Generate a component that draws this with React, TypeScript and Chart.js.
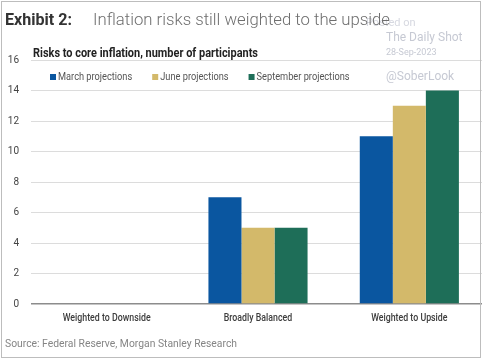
import React, { useEffect, useRef } from "react";
import { Chart, registerables } from "chart.js";

Chart.register(...registerables);

const categories = ["Weighted to Downside", "Broadly Balanced", "Weighted to Upside"];
const seriesNames = ["March projections", "June projections", "September projections"];
const marchValues = [0, 7, 11];
const juneValues = [0, 5, 13];
const septemberValues = [0, 5, 14];
const seriesColors = ["#0a56a0", "#d3b96a", "#1e6e58"];
const yMin = 0;
const yMax = 16;
const yStep = 2;

const FONT = "Roboto, 'Noto Sans', sans-serif";
const CONDENSE = 0.84;

function drawScaled(ctx: any, text: string, x: number, y: number, sx: number, align: string = "left") {
  ctx.save();
  ctx.translate(x, y);
  ctx.scale(sx, 1);
  ctx.textAlign = align;
  ctx.fillText(text, 0, 0);
  ctx.restore();
}

function drawFitted(ctx: any, text: string, x: number, y: number, width: number) {
  const w = ctx.measureText(text).width;
  drawScaled(ctx, text, x, y, width / w);
}

const decorPlugin = {
  id: "decor",
  beforeDraw(chart: any) {
    const ctx = chart.ctx;
    ctx.save();
    ctx.fillStyle = "#ffffff";
    ctx.fillRect(0, 0, chart.width, chart.height);
    ctx.restore();
  },
  afterDraw(chart: any) {
    const ctx = chart.ctx;
    ctx.save();
    ctx.textBaseline = "alphabetic";
    // watermark
    ctx.fillStyle = "#d6d8e0";
    ctx.font = "11px " + FONT;
    ctx.fillText("Posted on", 366, 26);
    ctx.fillStyle = "#c6c9d3";
    ctx.font = "12px " + FONT;
    ctx.fillText("The Daily Shot", 386, 41);
    ctx.font = "9px " + FONT;
    ctx.fillText("28-Sep-2023", 386, 55);
    ctx.font = "12px " + FONT;
    ctx.fillText("@SoberLook", 386, 80);

    // title
    ctx.fillStyle = "#333333";
    ctx.font = "bold 17px " + FONT;
    drawFitted(ctx, "Exhibit 2:", 5, 25, 67);
    ctx.fillStyle = "#6e6e6e";
    ctx.font = "300 17px " + FONT;
    drawFitted(ctx, "Inflation risks still weighted to the upside", 93, 25, 297);

    // subtitle
    ctx.fillStyle = "#222222";
    ctx.font = "bold 12px " + FONT;
    drawFitted(ctx, "Risks to core inflation, number of participants", 33, 57, 225);

    // legend
    const legendY = 77;
    let x = 50;
    ctx.font = "11px " + FONT;
    ctx.textBaseline = "middle";
    chart.data.datasets.forEach((ds: any) => {
      ctx.fillStyle = ds.backgroundColor;
      ctx.fillRect(x, legendY - 3, 6, 6);
      ctx.fillStyle = "#555555";
      drawScaled(ctx, ds.label, x + 8, legendY, CONDENSE);
      x += 8 + ctx.measureText(ds.label).width * CONDENSE + 20;
    });

    // x category labels
    const xs = chart.scales.x;
    ctx.fillStyle = "#3c3c3c";
    ctx.font = "500 11px " + FONT;
    (chart.data.labels as string[]).forEach((lab, i) => {
      drawScaled(ctx, lab, xs.getPixelForValue(i), 318, 0.8, "center");
    });

    // source
    ctx.fillStyle = "#858585";
    ctx.font = "11px " + FONT;
    drawFitted(ctx, "Source: Federal Reserve, Morgan Stanley Research", 5, 344, 232);

    // frame
    ctx.strokeStyle = "#bdbdbd";
    ctx.lineWidth = 1;
    ctx.strokeRect(1.5, 1.5, 479, 356);
    ctx.restore();
  },
};

export default function App() {
  const ref = useRef<HTMLCanvasElement>(null);
  useEffect(() => {
    document.body.style.margin = "0";
    const canvas = ref.current!;
    const chart = new Chart(canvas, {
      type: "bar",
      data: {
        labels: categories,
        datasets: [
          { label: seriesNames[0], data: marchValues, backgroundColor: seriesColors[0] },
          { label: seriesNames[1], data: juneValues, backgroundColor: seriesColors[1] },
          { label: seriesNames[2], data: septemberValues, backgroundColor: seriesColors[2] },
        ],
      },
      options: {
        responsive: false,
        animation: false,
        devicePixelRatio: 1,
        layout: { padding: { top: 60, right: 1, left: 0, bottom: 0 } },
        datasets: { bar: { categoryPercentage: 0.655, barPercentage: 1 } },
        plugins: { legend: { display: false }, title: { display: false }, tooltip: { enabled: false } },
        scales: {
          x: {
            grid: { display: false, drawTicks: false },
            border: { display: false },
            ticks: { display: false },
            afterFit: (s: any) => { s.height = 56; },
          },
          y: {
            min: yMin,
            max: yMax,
            grid: {
              drawTicks: false,
              color: (c: any) => (c.tick && c.tick.value === 0 ? "#8c8c8c" : "#dcdcdc"),
              lineWidth: (c: any) => (c.tick && c.tick.value === 0 ? 1.5 : 1),
            },
            border: { display: false },
            ticks: { stepSize: yStep, color: "#444444", font: { family: FONT, size: 10 }, padding: 12 },
            afterFit: (s: any) => { s.width = 31; },
          },
        },
      },
      plugins: [decorPlugin],
    });
    return () => chart.destroy();
  }, []);
  return (
    <div style={{ width: 482, height: 360, overflow: "hidden", position: "relative" }}>
      <canvas ref={ref} width={486} height={360} style={{ display: "block" }} />
    </div>
  );
}
